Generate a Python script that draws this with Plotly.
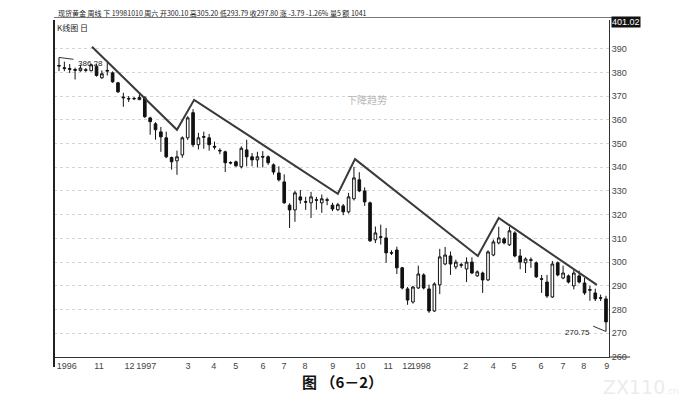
import plotly.graph_objects as go

# ---- data (weekly spot gold) ----
opens = [382.6, 381.6, 381.6, 381.2, 380.7, 381.1, 380.7, 382.5, 377.7, 380.5,
         379.8, 375.6, 369.6, 369.0, 368.8, 368.5, 369.3, 360.8, 358.3, 354.9,
         352.4, 344.1, 342.7, 345.2, 352.4, 363.0, 349.5, 352.6, 352.4, 348.8,
         347.1, 346.5, 342.0, 342.3, 340.2, 347.3, 344.4, 343.1, 344.5, 344.4,
         341.0, 337.6, 333.8, 324.0, 322.0, 327.5, 325.5, 325.0, 326.3, 325.0,
         326.3, 324.0, 322.1, 323.7, 321.2, 326.7, 334.7, 330.0, 325.0, 309.4,
         310.7, 310.2, 304.0, 305.1, 297.6, 288.7, 283.2, 289.1, 294.6, 288.7,
         279.4, 290.4, 299.2, 302.6, 298.0, 298.9, 297.1, 300.0, 294.2, 295.4,
         292.5, 303.0, 308.1, 309.8, 307.3, 312.3, 302.6, 299.7, 301.0, 299.7,
         293.0, 291.6, 285.3, 299.7, 293.3, 294.2, 290.0, 294.2, 291.2, 288.4,
         287.0, 285.0, 284.5]
highs = [386.28, 384.5, 383.5, 382.0, 383.2, 381.8, 383.6, 383.5, 380.8, 384.0,
         380.4, 376.0, 371.4, 370.0, 369.6, 371.0, 370.0, 361.3, 359.0, 357.0,
         355.0, 344.5, 347.0, 353.0, 361.5, 364.5, 354.5, 355.0, 354.0, 350.8,
         348.0, 347.0, 342.5, 342.8, 348.8, 351.6, 346.0, 346.5, 346.8, 345.0,
         341.6, 340.4, 337.0, 324.8, 330.0, 330.4, 327.5, 329.6, 327.5, 328.5,
         327.2, 325.0, 325.0, 324.5, 329.2, 340.2, 337.9, 331.5, 325.5, 315.0,
         315.8, 314.4, 305.0, 306.5, 298.0, 289.5, 290.0, 298.5, 295.3, 290.5,
         291.5, 305.6, 306.4, 304.5, 301.0, 299.8, 302.0, 302.0, 296.5, 296.0,
         305.0, 309.5, 314.9, 310.5, 314.9, 313.0, 305.5, 302.0, 302.0, 300.3,
         294.6, 294.6, 300.5, 300.3, 298.5, 294.8, 296.8, 296.4, 293.3, 290.0,
         288.8, 286.3, 285.8]
lows = [380.5, 380.5, 379.7, 377.0, 380.3, 380.2, 380.4, 378.2, 377.3, 378.7,
        375.6, 371.3, 365.5, 367.5, 368.3, 368.3, 360.8, 353.7, 351.6, 346.5,
        343.8, 339.0, 336.8, 344.0, 351.5, 348.5, 347.5, 347.8, 347.0, 347.5,
        345.5, 338.0, 341.2, 340.2, 339.5, 340.4, 340.4, 339.9, 339.9, 341.0,
        336.9, 334.0, 324.6, 314.4, 317.0, 324.6, 322.0, 318.6, 322.1, 320.8,
        324.0, 321.5, 321.5, 319.8, 320.5, 326.0, 329.5, 323.7, 308.5, 308.0,
        307.4, 299.7, 303.0, 295.0, 288.5, 282.0, 282.5, 288.7, 288.5, 278.6,
        279.0, 286.5, 298.7, 294.6, 297.0, 297.6, 291.6, 295.0, 293.8, 287.0,
        292.0, 302.5, 307.5, 307.5, 306.8, 302.0, 297.0, 295.4, 297.6, 293.3,
        287.0, 284.9, 284.9, 294.0, 292.8, 291.0, 288.5, 291.0, 286.2, 283.7,
        283.6, 283.6, 270.75]
closes = [382.9, 381.9, 381.3, 380.9, 381.8, 380.9, 383.2, 378.7, 379.4, 380.8,
          376.0, 371.8, 369.3, 368.8, 369.0, 369.4, 361.3, 359.2, 355.8, 352.8,
          344.4, 342.3, 344.4, 352.4, 360.8, 349.5, 352.4, 352.9, 349.5, 348.5,
          346.9, 341.9, 341.8, 340.6, 348.0, 344.4, 343.1, 344.4, 344.3, 341.9,
          338.0, 334.7, 325.0, 322.0, 329.2, 326.2, 325.3, 327.5, 326.1, 326.7,
          326.1, 322.4, 324.2, 321.2, 327.5, 335.5, 330.0, 325.4, 309.0, 312.3,
          310.5, 303.9, 303.8, 297.6, 289.1, 284.0, 289.5, 295.0, 289.1, 279.4,
          290.8, 302.2, 303.0, 299.2, 300.0, 298.7, 300.0, 295.4, 295.9, 292.5,
          304.3, 308.5, 310.2, 308.1, 313.2, 302.6, 300.0, 301.3, 300.8, 293.8,
          292.8, 285.7, 299.2, 294.6, 295.4, 291.6, 295.4, 291.6, 287.0, 288.2,
          284.5, 284.8, 274.8]
weeks = list(range(len(opens)))

# descending trend line vertices (week index, price)
trend_x = [6.15, 22.0, 25.2, 52.0, 55.2, 78.1, 82.0, 100.3]
trend_y = [390.8, 355.8, 368.4, 328.8, 343.4, 302.6, 318.6, 290.4]

# x tick labels (month marks) at week positions
tick_pos = [-0.5, 6.5, 12.1, 14.3, 23.5, 28.3, 32.4, 37.5, 41.4, 45.3, 50.5,
            55.2, 60.4, 63.9, 65.5, 75.3, 80.4, 84.3, 89.3, 93.4, 97.3, 101.6]
tick_txt = ["1996", "11", "12", "1997", "3", "4", "5", "6", "7", "8", "9",
            "10", "11", "12", "1998", "2", "4", "5", "6", "7", "8", "9"]
y_ticks = list(range(260, 400, 10))

max_high = 386.28
min_low = 270.75
top_value = 401.02
header = ("现货黄金 周线 下 19981010 周六 开300.10 高305.20 低293.79 "
          "收297.80 涨 -3.79 -1.26% 量5 额 1041")

fig = go.Figure()
fig.add_trace(go.Candlestick(
    x=weeks, open=opens, high=highs, low=lows, close=closes,
    increasing=dict(line=dict(color="#111111", width=1), fillcolor="white"),
    decreasing=dict(line=dict(color="#111111", width=1), fillcolor="#111111"),
    whiskerwidth=0, showlegend=False, hoverinfo="skip"))
fig.add_trace(go.Scatter(
    x=trend_x, y=trend_y, mode="lines",
    line=dict(color="#3a3a3a", width=2), showlegend=False, hoverinfo="skip"))

lab_font = dict(family="Liberation Sans, Arial, sans-serif", size=9, color="#444")
cjk = "Noto Sans CJK SC, sans-serif"

fig.update_layout(
    width=699, height=402,
    margin=dict(l=54, r=90, t=20, b=45),
    paper_bgcolor="white", plot_bgcolor="white",
    showlegend=False,
    xaxis=dict(range=[-0.93, 102.56], tickmode="array", tickvals=tick_pos,
               ticktext=tick_txt, ticklabelposition="outside right",
               tickangle=0, ticks="", showgrid=False, zeroline=False,
               showline=True, linecolor="#333", linewidth=1,
               tickfont=lab_font, rangeslider=dict(visible=False)),
    yaxis=dict(range=[260, 402.07], side="right", tickmode="array",
               tickvals=y_ticks, ticks="", showgrid=True, gridcolor="#d4d4d4",
               griddash="dot", gridwidth=1, zeroline=False, showline=True,
               linecolor="#333", linewidth=1, tickfont=lab_font),
)

shapes = [
    # left frame line
    dict(type="line", xref="paper", yref="paper", x0=0, x1=0, y0=-0.03, y1=1.0,
         line=dict(color="#222", width=2)),
    # header separator
    dict(type="line", xref="paper", yref="paper", x0=0, x1=1.038, y0=1.0074,
         y1=1.0074, line=dict(color="#777", width=1)),
    # bottom axis extension
    dict(type="line", xref="paper", yref="paper", x0=1.0, x1=1.038, y0=0, y1=0,
         line=dict(color="#333", width=1)),
    # max / min pointer lines
    dict(type="line", xref="x", yref="y", x0=0, x1=2.7, y0=max_high, y1=385.5,
         line=dict(color="#333", width=1)),
    dict(type="line", xref="x", yref="y", x0=99.6, x1=102, y0=273.0, y1=min_low,
         line=dict(color="#333", width=1)),
]
fig.update_layout(shapes=shapes)

ann = [
    dict(xref="paper", yref="paper", x=0.004, y=1.0208, xanchor="left",
         yanchor="middle", text=header, showarrow=False,
         font=dict(family=cjk, size=7, color="#222")),
    dict(xref="paper", yref="paper", x=0.002, y=0.979, xanchor="left",
         yanchor="middle", text="K线图 日", showarrow=False,
         font=dict(family=cjk, size=8, color="#222")),
    dict(xref="paper", yref="y", x=1.004, y=top_value, xanchor="left",
         yanchor="middle", text="401.02", showarrow=False, bgcolor="#111",
         borderpad=0, font=dict(family="Liberation Sans, Arial", size=9,
                                color="white")),
    dict(xref="x", yref="y", x=3.2, y=383.6, xanchor="left", yanchor="middle",
         text=f"{max_high:.2f}", showarrow=False,
         font=dict(family="Liberation Sans, Arial", size=8, color="#222")),
    dict(xref="x", yref="y", x=99.3, y=270.4, xanchor="right", yanchor="middle",
         text=f"{min_low:.2f}", showarrow=False,
         font=dict(family="Liberation Sans, Arial", size=8, color="#222")),
    dict(xref="paper", yref="paper", x=0.564, y=0.763, xanchor="center",
         yanchor="middle", text="下降趋势", showarrow=False,
         font=dict(family=cjk, size=10, color="#b8b8b8")),
    dict(xref="paper", yref="paper", x=0.52, y=-0.074, xanchor="center",
         yanchor="middle", text="<b>图 （6－2）</b>", showarrow=False,
         font=dict(family="Noto Sans CJK SC, serif", size=15, color="#111")),
    dict(xref="paper", yref="paper", x=1.13, y=-0.088, xanchor="right",
         yanchor="middle",
         text="ZX110<span style='font-size:9px'>.cn</span>", showarrow=False,
         font=dict(family="DejaVu Sans", size=19, color="#ececec")),
]
fig.update_layout(annotations=ann)

fig.write_html("out.html",
               config={"displayModeBar": False},
               post_script="document.body.style.margin='0px';"
                           "document.body.style.overflow='hidden';")
